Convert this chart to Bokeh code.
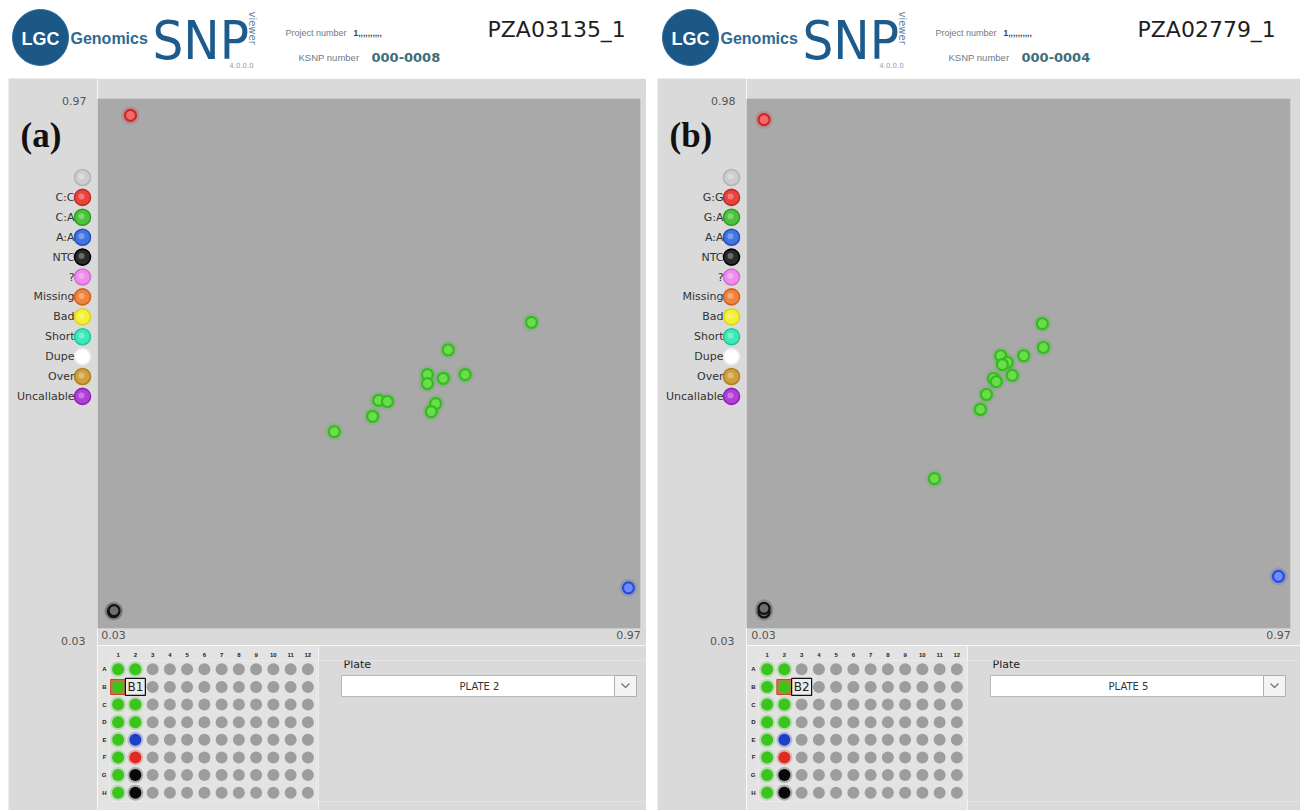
import math
from bokeh.plotting import figure
from bokeh.layouts import column, row
from bokeh.models import Range1d, FactorRange, FixedTicker, ColumnDataSource
from bokeh.core.properties import value
from bokeh.embed import file_html
from bokeh.resources import INLINE

# ---------------- data ----------------
x_tick_values = [0.03, 0.97]
a_y_tick_labels = ["0.03", "0.97"]
b_y_tick_labels = ["0.03", "0.98"]

a_title, a_ksnp, a_plate_name, a_letter = "PZA03135_1", "000-0008", "PLATE 2", "(a)"
b_title, b_ksnp, b_plate_name, b_letter = "PZA02779_1", "000-0004", "PLATE 5", "(b)"
project_number = "1,,,,,,,,,,"
version = "4.0.0.0"

a_legend_labels = ["", "C:C", "C:A", "A:A", "NTC", "?", "Missing", "Bad", "Short", "Dupe", "Over", "Uncallable"]
b_legend_labels = ["", "G:G", "G:A", "A:A", "NTC", "?", "Missing", "Bad", "Short", "Dupe", "Over", "Uncallable"]
legend_fill = ["#cdcdcd", "#e8443c", "#4cc43a", "#4474e0", "#2a2a2a", "#f08cf0", "#f0843c",
               "#f4f038", "#3ee8b8", "#ffffff", "#d0a040", "#b040d8"]
legend_line = ["#b4b4b4", "#c82828", "#2e9e22", "#2450c0", "#000000", "#d070d0", "#d06020",
               "#d8d420", "#22c898", "#eeeeee", "#b08020", "#8e20b8"]

# panel (a) scatter values
a_het_x = [0.793, 0.641, 0.603, 0.603, 0.632, 0.672, 0.514, 0.530, 0.618, 0.610, 0.503, 0.433]
a_het_y = [0.578, 0.526, 0.479, 0.462, 0.472, 0.479, 0.430, 0.428, 0.424, 0.409, 0.400, 0.371]
a_hom1_x, a_hom1_y = [0.061], [0.970]
a_hom2_x, a_hom2_y = [0.970], [0.075]
a_ntc_x, a_ntc_y = [0.030, 0.031], [0.030, 0.032]

# panel (b) scatter values
b_het_x = [0.539, 0.541, 0.463, 0.505, 0.475, 0.466, 0.484, 0.450, 0.455, 0.437, 0.426, 0.342]
b_het_y = [0.585, 0.539, 0.523, 0.523, 0.510, 0.506, 0.485, 0.479, 0.473, 0.448, 0.419, 0.285]
b_hom1_x, b_hom1_y = [0.031], [0.980]
b_hom2_x, b_hom2_y = [0.970], [0.096]
b_ntc_x, b_ntc_y = [0.031, 0.031], [0.027, 0.034]

# plate layout
plate_rows = ["A", "B", "C", "D", "E", "F", "G", "H"]
plate_cols = ["1", "2", "3", "4", "5", "6", "7", "8", "9", "10", "11", "12"]
a_plate_col1 = ["C:A", "C:A", "C:A", "C:A", "C:A", "C:A", "C:A", "C:A"]
a_plate_col2 = ["C:A", "C:A", "C:A", "C:A", "A:A", "C:C", "NTC", "NTC"]
b_plate_col1 = ["G:A", "G:A", "G:A", "G:A", "G:A", "G:A", "G:A", "G:A"]
b_plate_col2 = ["G:A", "G:A", "G:A", "G:A", "A:A", "G:G", "NTC", "NTC"]
a_selected = ("1", "B", "2", "B1")
b_selected = ("2", "B", "3", "B2")

# ---------------- styles ----------------
PANEL_BG = "#dadada"
PLOT_BG = "#a9a9a9"
PLATE_BG = "#e3e3e3"
FONT = value("DejaVu Sans")
SANS = value("Liberation Sans")

HET = ("#6ade4a", "#35bb22")
HOM1 = ("#f06a6a", "#d02626")
HOM2 = ("#6c8cff", "#2a4cd8")
NTC = ("#6e6e6e", "#121212")

PLATE_TOP, PLATE_BOTTOM = 15, 9


def blank(p):
    p.grid.visible = False
    p.outline_line_color = None
    return p


def deco(w, h, bg, top=0, bottom=0):
    # pixel-coordinate decoration canvas; frame covers y in [top, h - bottom]
    p = figure(width=w, height=h, x_range=Range1d(0, w), y_range=Range1d(h - bottom, top),
               output_backend="svg", toolbar_location=None, tools="",
               x_axis_location=None, y_axis_location=None,
               min_border=0, min_border_left=0, min_border_right=0,
               min_border_top=top, min_border_bottom=bottom,
               background_fill_color=bg, border_fill_color=bg)
    return blank(p)


def make_header():
    p = deco(1302, 78, "white")
    for dx, title, ksnp in [(0, a_title, a_ksnp), (650, b_title, b_ksnp)]:
        p.circle(x=[40 + dx], y=[37], radius=28, fill_color="#1b5886", line_color="#2a6796")
        p.text(x=[40 + dx], y=[38], text=["LGC"], text_color="white", text_font_size="18px",
               text_font_style="bold", text_align="center", text_baseline="middle", text_font=SANS)
        p.text(x=[70 + dx], y=[38], text=["Genomics"], text_color="#2d6a93", text_font_size="16px",
               text_font_style="bold", text_align="left", text_baseline="middle", text_font=SANS)
        p.text(x=[152 + dx], y=[40], text=["SNP"], text_color="#1d5b8d", text_font_size="54px",
               text_align="left", text_baseline="middle", text_font=value("DejaVu Sans Condensed"))
        p.text(x=[252 + dx], y=[11], text=["viewer"], angle=-math.pi / 2, text_color="#5f86a3",
               text_font_size="10px", text_align="left", text_baseline="middle", text_font=FONT)
        p.text(x=[241 + dx], y=[64], text=[version], text_color="#a0a0a0", text_font_size="7px",
               text_align="center", text_baseline="middle", text_font=FONT)
        p.text(x=[285 + dx], y=[32], text=["Project number"], text_color="#6c7a86", text_font_size="9px",
               text_align="left", text_baseline="middle", text_font=SANS)
        p.text(x=[353 + dx], y=[32], text=[project_number], text_color="#33404a", text_font_size="8.5px",
               text_font_style="bold", text_align="left", text_baseline="middle", text_font=SANS)
        p.text(x=[298 + dx], y=[57], text=["KSNP number"], text_color="#6c7a86", text_font_size="9.5px",
               text_align="left", text_baseline="middle", text_font=SANS)
        p.text(x=[371 + dx], y=[57], text=[ksnp], text_color="#3d6e7a", text_font_size="13px",
               text_font_style="bold", text_align="left", text_baseline="middle", text_font=FONT)
        p.text(x=[487 + dx], y=[29], text=[title], text_color="#1e1e1e", text_font_size="22px",
               text_align="left", text_baseline="middle", text_font=FONT)
    return p


def make_legend(labels, letter, ytl):
    p = deco(89, 732, PANEL_BG)
    n = len(labels)
    ys = [99 + 19.9 * i for i in range(n)]
    p.scatter(x=[74] * n, y=ys, size=16, fill_color=legend_fill, line_color=legend_line, line_width=1.6)
    p.scatter(x=[73] * n, y=[y - 1 for y in ys], size=6, fill_color="white", fill_alpha=0.3, line_color=None)
    p.text(x=[66] * n, y=ys, text=labels, text_align="right", text_baseline="middle",
           text_font_size="11px", text_color="#333333", text_font=FONT)
    p.text(x=[12], y=[57], text=[letter], text_align="left", text_baseline="middle",
           text_font_size="35px", text_font_style="bold", text_color="#111111",
           text_font=value("Liberation Serif"))
    p.text(x=[78, 77], y=[22, 562], text=[ytl[1], ytl[0]], text_align="right", text_baseline="middle",
           text_font_size="11px", text_color="#555555", text_font=FONT)
    return p


def make_scatter(width, border_right, xr, yr, het, hom1, hom2, ntc):
    p = figure(width=width, height=567, x_range=Range1d(*xr), y_range=Range1d(*yr),
               output_backend="svg", toolbar_location=None, tools="", y_axis_location=None,
               min_border=0, min_border_left=0, min_border_right=border_right,
               min_border_top=20, min_border_bottom=17,
               background_fill_color=PLOT_BG, border_fill_color=PANEL_BG)
    blank(p)
    ax = p.xaxis[0]
    ax.ticker = FixedTicker(ticks=x_tick_values)
    ax.axis_line_color = None
    ax.major_tick_line_color = None
    ax.minor_tick_line_color = None
    ax.major_tick_out = 0
    ax.major_tick_in = 0
    ax.major_label_standoff = 2
    ax.major_label_text_font_size = "11px"
    ax.major_label_text_color = "#555555"
    ax.major_label_text_font = "DejaVu Sans"
    for (xs, ys), (fill, line) in [(het, HET), (hom1, HOM1), (hom2, HOM2), (ntc, NTC)]:
        p.scatter(x=xs, y=ys, size=18, fill_color=line, fill_alpha=0.18, line_color=None)
        p.scatter(x=xs, y=ys, size=11, fill_color=fill, line_color=line, line_width=2.2)
    return p


def make_plate(col1, col2, calls, sel):
    color_of = {calls[0]: "#e02a22", calls[1]: "#3cc41e", calls[2]: "#1f3fc4", calls[3]: "#080808", "": "#9d9d9d"}
    xs, ys, fc = [], [], []
    for ci, c in enumerate(plate_cols):
        for ri, r in enumerate(plate_rows):
            call = col1[ri] if ci == 0 else (col2[ri] if ci == 1 else "")
            xs.append(c)
            ys.append(r)
            fc.append(color_of[call])
    src = ColumnDataSource(dict(x=xs, y=ys, c=fc))
    p = figure(width=221, height=165, x_range=FactorRange(factors=plate_cols),
               y_range=FactorRange(factors=plate_rows[::-1]),
               output_backend="svg", toolbar_location=None, tools="", x_axis_location="above",
               min_border=0, min_border_left=12, min_border_right=2,
               min_border_top=PLATE_TOP, min_border_bottom=PLATE_BOTTOM,
               background_fill_color=PLATE_BG, border_fill_color=PLATE_BG)
    blank(p)
    p.axis.axis_line_color = None
    p.axis.major_tick_line_color = None
    p.axis.major_tick_out = 0
    p.axis.major_tick_in = 0
    p.axis.major_label_text_font_size = "6px"
    p.axis.major_label_text_color = "#222222"
    p.axis.major_label_text_font_style = "bold"
    p.xaxis.major_label_standoff = 4
    p.yaxis.major_label_standoff = 3
    # highlighted well
    p.rect(x=[sel[0]], y=[sel[1]], width=15, height=15, width_units="screen", height_units="screen",
           fill_color="#e0602c", line_color="#d03a20", fill_alpha=0.9)
    colored = [i for i, c in enumerate(fc) if c != "#9d9d9d"]
    p.scatter(x=[xs[i] for i in colored], y=[ys[i] for i in colored], size=16,
              fill_color=[fc[i] for i in colored], fill_alpha=0.25, line_color=None)
    p.scatter(x="x", y="y", size=12, fill_color="c", line_color=None, source=src)
    # tooltip box
    p.rect(x=[sel[2]], y=[sel[1]], width=20, height=17, width_units="screen", height_units="screen",
           fill_color="#ececec", line_color="#111111", line_width=1.2)
    p.text(x=[sel[2]], y=[sel[1]], text=[sel[3]], text_align="center", text_baseline="middle",
           text_font_size="12px", text_color="#222222", text_font=FONT)
    return p


def make_ctrl(w, plate_name):
    p = deco(w, 165, PANEL_BG, top=PLATE_TOP, bottom=PLATE_BOTTOM)
    p.text(x=[25], y=[19], text=["Plate"], text_align="left", text_baseline="middle",
           text_font_size="11px", text_color="#222222", text_font=FONT)
    p.quad(left=[23], right=[299], top=[30], bottom=[51], fill_color="white", line_color="#b8b8b8")
    p.text(x=[161], y=[41], text=[plate_name], text_align="center", text_baseline="middle",
           text_font_size="10px", text_color="#333333", text_font=FONT)
    p.quad(left=[296], right=[318], top=[30], bottom=[51], fill_color="#f4f4f4", line_color="#b0b0b0")
    p.line(x=[303, 307, 311], y=[38, 42, 38], line_color="#777777", line_width=1.3)
    return p


header = make_header()

leg_a = make_legend(a_legend_labels, a_letter, a_y_tick_labels)
sc_a = make_scatter(549, 6, (0.0008, 0.992), (-0.002, 1.002),
                    (a_het_x, a_het_y), (a_hom1_x, a_hom1_y), (a_hom2_x, a_hom2_y), (a_ntc_x, a_ntc_y))
pl_a = make_plate(a_plate_col1, a_plate_col2, ["C:C", "C:A", "A:A", "NTC"], a_selected)
ct_a = make_ctrl(328, a_plate_name)
panel_a = row(leg_a, column(sc_a, row(pl_a, ct_a)))

leg_b = make_legend(b_legend_labels, b_letter, b_y_tick_labels)
sc_b = make_scatter(554, 10, (-0.001, 0.992), (-0.005, 1.021),
                    (b_het_x, b_het_y), (b_hom1_x, b_hom1_y), (b_hom2_x, b_hom2_y), (b_ntc_x, b_ntc_y))
pl_b = make_plate(b_plate_col1, b_plate_col2, ["G:G", "G:A", "A:A", "NTC"], b_selected)
ct_b = make_ctrl(333, b_plate_name)
panel_b = row(leg_b, column(sc_b, row(pl_b, ct_b)))

layout = column(header, row(deco(8, 732, "white"), panel_a, deco(11, 732, "white"), panel_b,
                            deco(2, 732, "white")))

open("out.html", "w").write(file_html(layout, INLINE, title="SNP viewer"))
